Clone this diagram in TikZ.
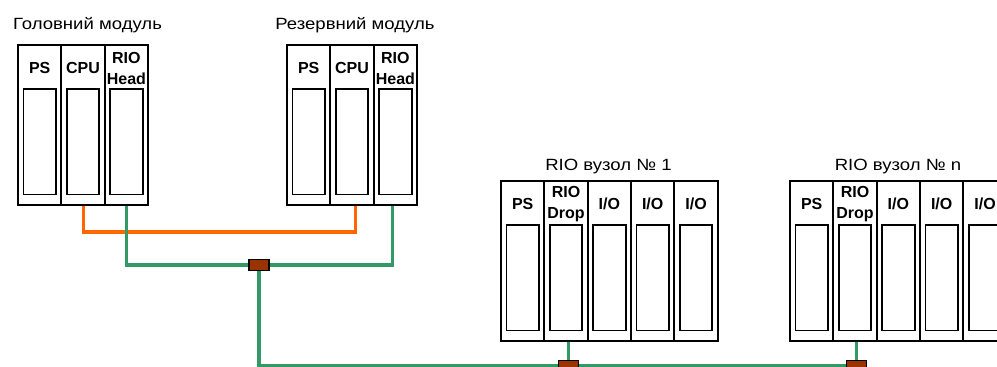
\documentclass[tikz,border=0pt]{standalone}
\usepackage{fontspec}
\setmainfont{Liberation Sans}
\usetikzlibrary{positioning}
\definecolor{busGreen}{HTML}{339966}
\definecolor{syncOrange}{HTML}{FF6600}
\definecolor{tapBrown}{HTML}{993300}

\begin{document}
\begin{tikzpicture}[
    x=0.75pt, y=-0.75pt,
    every node/.style={font=\fontsize{12.2}{15}\selectfont},
    slotBox/.style={draw=black, fill=white, line width=1.6pt, minimum width=32.5pt, minimum height=120pt, inner sep=0pt, outer sep=0pt,
        path picture={\draw[line width=1.4pt] ([xshift=4.1pt, yshift=7.9pt]path picture bounding box.south west) rectangle ([xshift=-4.1pt, yshift=-33pt]path picture bounding box.north east);}},
    slotText/.style={anchor=center, yshift=-17.5pt, align=center, inner sep=0pt, font=\bfseries\fontsize{12}{15.5}\selectfont},
    titleText/.style={anchor=base, inner sep=0pt, font=\fontsize{12.2}{15}\selectfont\addfontfeatures{FakeStretch=1.14}},
    greenWire/.style={draw=busGreen, line width=2.3pt},
    orangeWire/.style={draw=syncOrange, line width=2.3pt},
    tapBox/.style={draw=black, line width=0.8pt, fill=tapBrown, minimum width=15pt, minimum height=8.25pt, inner sep=0pt}
]
    \useasboundingbox (0,0) rectangle (997,367);

    % Головний модуль
    \node[titleText] (gm-title) at (87.5,30) {Головний модуль};
    \node[slotBox, label={[slotText]north:PS}] (gm-ps) at (39.7,125) {};
    \node[slotBox, right=0pt of gm-ps, label={[slotText]north:CPU}] (gm-cpu) {};
    \node[slotBox, right=0pt of gm-cpu, label={[slotText]north:RIO\\Head}] (gm-rio) {};

    % Резервний модуль
    \node[titleText] (rm-title) at (355,30) {Резервний модуль};
    \node[slotBox, label={[slotText]north:PS}] (rm-ps) at (308.7,125) {};
    \node[slotBox, right=0pt of rm-ps, label={[slotText]north:CPU}] (rm-cpu) {};
    \node[slotBox, right=0pt of rm-cpu, label={[slotText]north:RIO\\Head}] (rm-rio) {};

    % RIO вузол 1
    \node[titleText] (v1-title) at (608.5,171) {RIO вузол № 1};
    \node[slotBox, label={[slotText]north:PS}] (v1-ps) at (522.7,261) {};
    \node[slotBox, right=0pt of v1-ps, label={[slotText]north:RIO\\Drop}] (v1-drop) {};
    \node[slotBox, right=0pt of v1-drop, label={[slotText]north:I/O}] (v1-io1) {};
    \node[slotBox, right=0pt of v1-io1, label={[slotText]north:I/O}] (v1-io2) {};
    \node[slotBox, right=0pt of v1-io2, label={[slotText]north:I/O}] (v1-io3) {};

    % RIO вузол n
    \node[titleText] (vn-title) at (898,171) {RIO вузол № n};
    \node[slotBox, label={[slotText]north:PS}] (vn-ps) at (811.7,261) {};
    \node[slotBox, right=0pt of vn-ps, label={[slotText]north:RIO\\Drop}] (vn-drop) {};
    \node[slotBox, right=0pt of vn-drop, label={[slotText]north:I/O}] (vn-io1) {};
    \node[slotBox, right=0pt of vn-io1, label={[slotText]north:I/O}] (vn-io2) {};
    \node[slotBox, right=0pt of vn-io2, label={[slotText]north:I/O}] (vn-io3) {};

    % Відгалужувачі шини
    \node[tapBox] (tapMain) at (259,265) {};
    \node[tapBox] (tapV1) at (568.5,366) {};
    \node[tapBox] (tapVn) at (856.5,366) {};

    % Зв'язок CPU між модулями
    \draw[orangeWire, shorten <=0.8pt, shorten >=0.8pt] (gm-cpu.south) -- ++(0,27) -| ([xshift=2.6pt]rm-cpu.south);

    % Шина RIO
    \draw[greenWire, shorten <=0.8pt] (gm-rio.south) |- (tapMain.west);
    \draw[greenWire, shorten <=0.8pt] ([xshift=-2.3pt]rm-rio.south) |- (tapMain.east);
    \draw[greenWire] (tapMain.south) |- (tapV1.west);
    \draw[greenWire] (tapV1.east) -- (tapVn.west);
    \draw[greenWire, shorten >=0.8pt] (tapV1.north) -- (tapV1.north |- v1-drop.south);
    \draw[greenWire, shorten >=0.8pt] (tapVn.north) -- (tapVn.north |- vn-drop.south);
\end{tikzpicture}
\end{document}
